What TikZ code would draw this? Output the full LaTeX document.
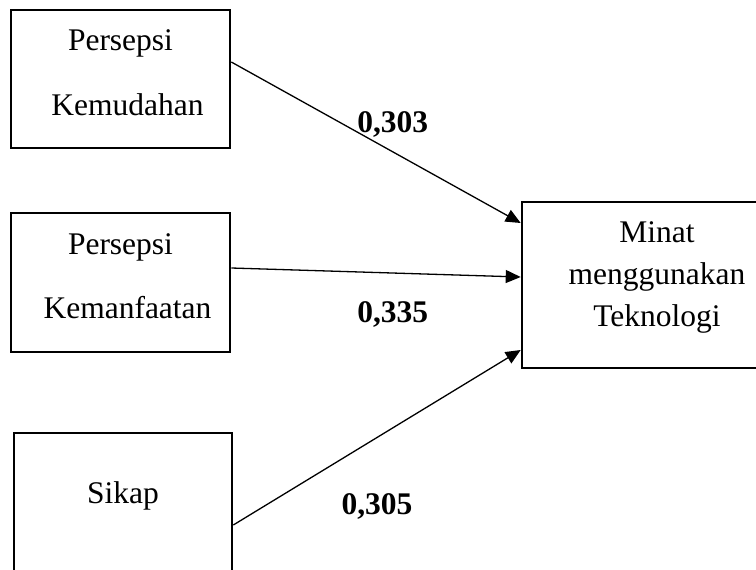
\documentclass[tikz,border=0pt]{standalone}
\usepackage{fontspec}
\setmainfont{Liberation Serif}
\usetikzlibrary{arrows.meta}

\begin{document}
\begin{tikzpicture}[x=1pt, y=-1pt,
    box/.style={draw, line width=2.6pt, line join=miter, inner sep=0pt, align=center},
    arr/.style={line width=1.3pt, -{Triangle[length=15pt, width=13pt]}},
    lbl/.style={font=\fontsize{31.5}{37}\selectfont\bfseries}]
    \useasboundingbox (0, 0) rectangle (756, 570) ;
    \clip (0, 0) rectangle (756, 570) ;
    \node[box, minimum width=219pt, minimum height=138pt, text height=72pt, text depth=0pt, font=\fontsize{31.5}{65}\selectfont] (kemudahan) at (120.5, 79) {Persepsi\\\hspace{14pt}Kemudahan} ;
    \node[box, minimum width=219pt, minimum height=139pt, text height=71pt, text depth=0pt, font=\fontsize{31.5}{64}\selectfont] (manfaat) at (120.5, 282.5) {Persepsi\\\hspace{14pt}Kemanfaatan} ;
    \node[box, minimum width=218pt, minimum height=147pt, text height=21.5pt, text depth=28.5pt, font=\fontsize{31.5}{37}\selectfont] (sikap) at (123, 506.5) {Sikap} ;
    \node[box, minimum width=270pt, minimum height=166pt, text height=90pt, text depth=8pt, font=\fontsize{31.5}{42}\selectfont] (minat) at (657, 285) {Minat\\menggunakan\\Teknologi} ;
    \draw[arr] ([yshift=17pt]kemudahan.east) -- ([yshift=62pt]minat.west) node[lbl, pos=.558, yshift=27pt] {0,303} ;
    \draw[arr] ([yshift=14.5pt]manfaat.east) -- ([yshift=8pt]minat.west) node[lbl, pos=.558, yshift=-41pt] {0,335} ;
    \draw[arr] ([yshift=-18.5pt]sikap.east) -- ([yshift=-65pt]minat.west) node[lbl, pos=.5, yshift=-69pt] {0,305} ;
  \end{tikzpicture}
\end{document}
